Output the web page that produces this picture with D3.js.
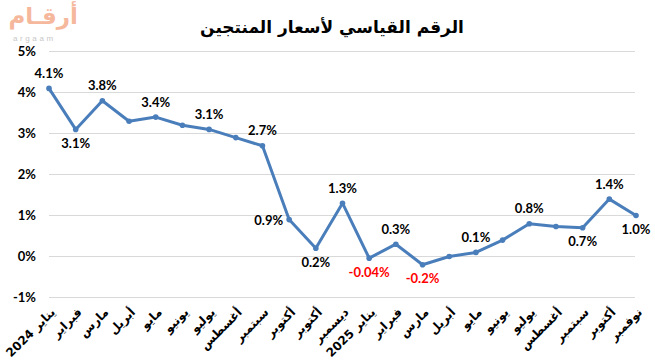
<!DOCTYPE html>
<html><head><meta charset="utf-8">
<script src="https://cdn.jsdelivr.net/npm/d3@7"></script>
<style>
html,body{margin:0;padding:0;background:#fff;}
svg{display:block;}
</style></head>
<body>
<svg id="chart" width="655" height="364"></svg>
<script>
const categories = ["يناير 2024","فبراير","مارس","أبريل","مايو","يونيو","يوليو","أغسطس","سبتمبر","أكتوبر","أكتوبر","ديسمبر",
  "يناير 2025","فبراير","مارس","أبريل","مايو","يونيو","يوليو","أغسطس","سبتمبر","أكتوبر","نوفمبر"];
const values = [4.1,3.1,3.8,3.3,3.4,3.2,3.1,2.9,2.7,0.9,0.2,1.3,-0.04,0.3,-0.2,0.0,0.1,0.4,0.8,0.73,0.7,1.4,1.0];
const valueLabels = ["4.1%","3.1%","3.8%","","3.4%","","3.1%","","2.7%","0.9%","0.2%","1.3%","-0.04%","0.3%","-0.2%","","0.1%","","0.8%","","0.7%","1.4%","1.0%"];
const labelPlacement = ["t","b","t","","t","","t","","t","l","b","t","b","t","b","","t","","t","","b","t","b"];
const yTicks = [-1,0,1,2,3,4,5];
const titleText = "الرقم القياسي لأسعار المنتجين";
const logoText = "أرقـام";
const logoSub = "argaam";

const svg = d3.select("#chart");
const x = d3.scalePoint().domain(d3.range(categories.length)).range([49, 636]);
const y = d3.scaleLinear().domain([-1,5]).range([297.5, 51.5]);
const numFont = "Lato, 'Liberation Sans', sans-serif";
const arFont = "'DejaVu Sans', sans-serif";

// logo
const logo = svg.append("g");
logo.append("text").attr("x", 78).attr("y", 24).attr("font-family", arFont).attr("font-weight", "bold")
  .attr("font-size", 23).attr("fill", "#f6b89d").attr("direction", "rtl").attr("text-anchor", "start").text(logoText);
logo.append("text").attr("x", 13).attr("y", 41).attr("font-family", "'Liberation Sans', sans-serif")
  .attr("font-size", 8).attr("letter-spacing", 2.6).attr("fill", "#c8c8c8").text(logoSub);

// title
svg.append("text").attr("x", 332).attr("y", 33).attr("text-anchor", "middle")
  .attr("font-family", arFont).attr("font-weight", "bold").attr("font-size", 17).attr("fill", "#000")
  .text(titleText);

// gridlines
svg.append("g").selectAll("line").data(yTicks).join("line")
  .attr("x1", 49).attr("x2", 635).attr("y1", d => y(d)).attr("y2", d => y(d))
  .attr("stroke", "#d9d9d9").attr("stroke-width", 1).attr("shape-rendering", "crispEdges");

// y axis labels
const yAxis = d3.axisLeft(y).tickValues(yTicks).tickFormat(d => d + "%").tickSize(0).tickPadding(0);
const yg = svg.append("g").attr("transform", "translate(36,0)").call(yAxis);
yg.select(".domain").remove();
yg.selectAll("text").attr("font-family", numFont).attr("font-weight", "bold").attr("font-size", 13).attr("fill", "#000");

// x axis labels
const xg = svg.append("g");
xg.selectAll("text").data(categories).join("text")
  .attr("transform", (d, i) => `translate(${x(i) + 4},310) rotate(-45)`)
  .attr("direction", "rtl").attr("text-anchor", "start").attr("dy", "0.35em")
  .attr("font-family", arFont).attr("font-weight", "bold").attr("font-size", 12).attr("fill", "#000")
  .text(d => d);

// line
const line = d3.line().x((d, i) => x(i)).y(d => y(d));
svg.append("path").datum(values).attr("d", line).attr("fill", "none")
  .attr("stroke", "#4a7ebb").attr("stroke-width", 3).attr("stroke-linejoin", "round");
svg.append("g").selectAll("circle").data(values).join("circle")
  .attr("cx", (d, i) => x(i)).attr("cy", d => y(d)).attr("r", 2.8).attr("fill", "#4a7ebb");

// data labels
const lg = svg.append("g");
values.forEach((v, i) => {
  const lab = valueLabels[i];
  if (!lab) return;
  const p = labelPlacement[i];
  let tx = x(i), ty = y(v), anchor = "middle";
  if (p === "t") ty -= 15;
  else if (p === "b") ty += 14;
  else if (p === "l") { tx -= 6; anchor = "end"; ty += 1; }
  lg.append("text").attr("x", tx).attr("y", ty).attr("dy", "0.35em").attr("text-anchor", anchor)
    .attr("font-family", numFont).attr("font-weight", "bold").attr("font-size", 13)
    .attr("fill", v < 0 ? "#ff0000" : "#000").text(lab);
});
</script>
</body></html>
